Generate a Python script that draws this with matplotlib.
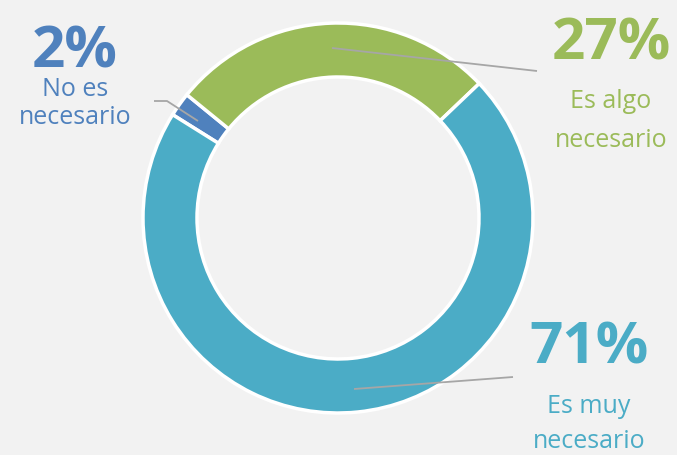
import matplotlib
matplotlib.use("Agg")
import matplotlib.pyplot as plt

# data
categories = ["No es necesario", "Es algo necesario", "Es muy necesario"]
values = [2, 27, 71]
colors = ["#4f81bd", "#9bbb59", "#4bacc6"]
pct_labels = ["2%", "27%", "71%"]
cat_lines = [["No es", "necesario"], ["Es algo", "necesario"], ["Es muy", "necesario"]]

W, H = 677, 455
bg = "#f2f2f2"

fig = plt.figure(figsize=(W / 100, H / 100), dpi=100, facecolor=bg)
ax = fig.add_axes([0, 0, 1, 1])
ax.set_facecolor(bg)

def py(y):
    # pixel row -> data y (y up)
    return H - y

ax.pie(values, colors=colors, startangle=148, counterclock=False,
       center=(338, py(218)), radius=195,
       wedgeprops=dict(width=54, edgecolor="white", linewidth=2.5))

ax.set_xlim(0, W)
ax.set_ylim(0, H)
ax.set_aspect("equal")
ax.axis("off")

# leader lines (pixel coords)
leaders = [
    [(154, 101), (167, 101), (198, 121)],
    [(537, 71), (332, 48)],
    [(513, 377), (354, 389)],
]
for pts in leaders:
    ax.plot([p[0] for p in pts], [py(p[1]) for p in pts], color="#a6a6a6",
            lw=1.3, solid_capstyle="butt", zorder=5)

# label positions: center x, baseline of pct, baselines of the two text lines
label_pos = [
    (75, 67, [96, 124]),
    (611, 59, [108, 147]),
    (589, 364, [413, 448]),
]
font = "Open Sans"
for (x, yp, ys), pct, lines, c in zip(label_pos, pct_labels, cat_lines, colors):
    ax.text(x, py(yp), pct, color=c, fontsize=42, fontweight="bold",
            family=font, ha="center", va="baseline")
    for line, yl in zip(lines, ys):
        ax.text(x, py(yl), line, color=c, fontsize=18, family=font,
                ha="center", va="baseline")

fig.savefig("out.png", dpi=100, facecolor=bg)
